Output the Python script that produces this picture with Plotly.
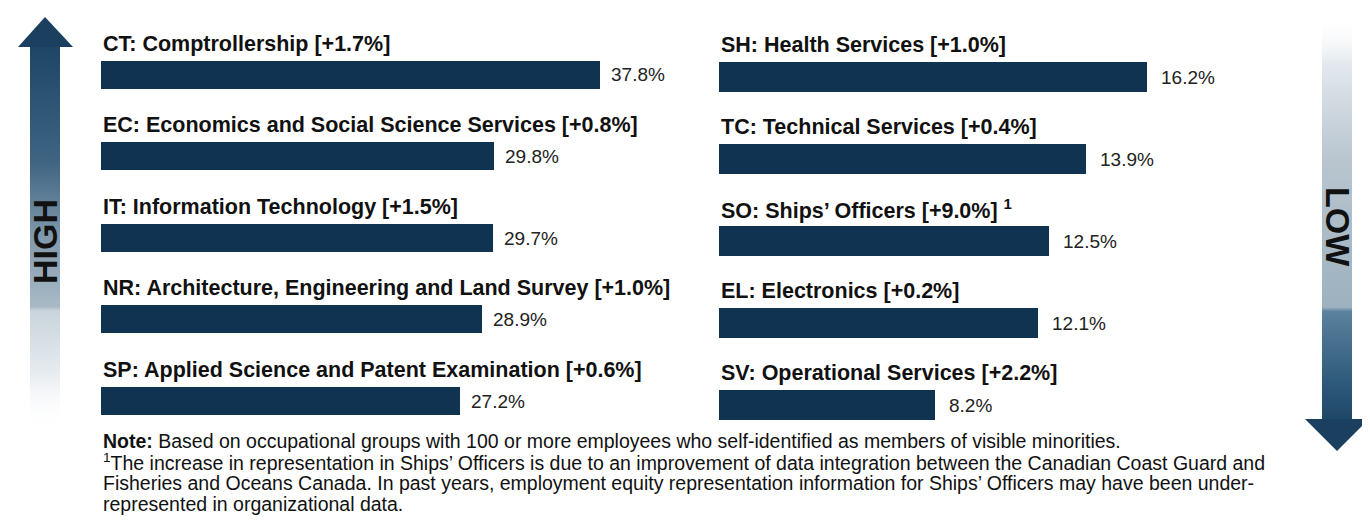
import plotly.graph_objects as go

# page is 1370x524; the html body adds an 8px margin, so the figure itself is 1362x516
PAGE_W, PAGE_H = 1370, 524
OFF = 8
W, H = PAGE_W - OFF, PAGE_H - OFF

# ---------------- data ----------------
left_codes = ["CT", "EC", "IT", "NR", "SP"]
left_names = ["Comptrollership", "Economics and Social Science Services",
              "Information Technology", "Architecture, Engineering and Land Survey",
              "Applied Science and Patent Examination"]
left_change = ["+1.7%", "+0.8%", "+1.5%", "+1.0%", "+0.6%"]
left_values = [37.8, 29.8, 29.7, 28.9, 27.2]

right_codes = ["SH", "TC", "SO", "EL", "SV"]
right_names = ["Health Services", "Technical Services", "Ships’ Officers",
               "Electronics", "Operational Services"]
right_change = ["+1.0%", "+0.4%", "+9.0%", "+0.2%", "+2.2%"]
right_notes = ["", "", " <sup>1</sup>", "", ""]
right_values = [16.2, 13.9, 12.5, 12.1, 8.2]

note_lines = [
    "<b>Note:</b> Based on occupational groups with 100 or more employees who self-identified as members of visible minorities.",
    "<sup>1</sup>The increase in representation in Ships’ Officers is due to an improvement of data integration between the Canadian Coast Guard and",
    "Fisheries and Oceans Canada. In past years, employment equity representation information for Ships’ Officers may have been under-",
    "represented in organizational data.",
]

BAR = "#0f3350"
FONT = "Liberation Sans, Arial, sans-serif"


def fx(p):  # page x pixel -> paper fraction
    return (p - OFF) / W


def fy(p):  # page y pixel -> paper fraction (from bottom)
    return 1 - (p - OFF) / H


fig = go.Figure()
pos = list(range(5))

fig.add_trace(go.Bar(x=left_values, y=pos, orientation="h", marker_color=BAR,
                     marker_line_width=0, width=0.34, xaxis="x", yaxis="y",
                     hoverinfo="skip", showlegend=False))
fig.add_trace(go.Bar(x=right_values, y=pos, orientation="h", marker_color=BAR,
                     marker_line_width=0, width=0.355, xaxis="x2", yaxis="y2",
                     hoverinfo="skip", showlegend=False))

annotations = []
for i in pos:
    annotations.append(dict(x=0, y=i - 0.385, xref="x", yref="y", xanchor="left", yanchor="middle",
                            text=f"<b>{left_codes[i]}: {left_names[i]} [{left_change[i]}]</b>",
                            showarrow=False, font=dict(size=21.5, color="#111111", family=FONT)))
    annotations.append(dict(x=left_values[i], y=i, xref="x", yref="y", xanchor="left", yanchor="middle",
                            xshift=9, text=f"{left_values[i]:.1f}%", showarrow=False,
                            font=dict(size=19, color="#222222", family=FONT)))
    annotations.append(dict(x=0, y=i - 0.395, xref="x2", yref="y2", xanchor="left", yanchor="middle",
                            text=f"<b>{right_codes[i]}: {right_names[i]} [{right_change[i]}]{right_notes[i]}</b>",
                            showarrow=False, font=dict(size=21.5, color="#111111", family=FONT)))
    annotations.append(dict(x=right_values[i], y=i, xref="x2", yref="y2", xanchor="left", yanchor="middle",
                            xshift=12, text=f"{right_values[i]:.1f}%", showarrow=False,
                            font=dict(size=19, color="#222222", family=FONT)))

# ---------------- arrows (decoration, page-pixel space on x3/y3) ----------------
fig.add_trace(go.Scatter(x=[30, 60, 60, 30, 30], y=[45, 45, 430, 430, 45], mode="lines",
                         line=dict(width=0), fill="toself", xaxis="x3", yaxis="y3",
                         fillgradient=dict(type="vertical", start=45, stop=430,
                                           colorscale=[[0, "#1d4566"], [0.3, "#3e6482"], [0.5, "#8199ac"],
                                                       [0.68, "#a9bac6"], [0.69, "#c9d4dc"],
                                                       [0.85, "#e6ebef"], [1, "rgba(255,255,255,0)"]]),
                         hoverinfo="skip", showlegend=False))
fig.add_trace(go.Scatter(x=[18, 45, 73, 18], y=[47, 17, 47, 47], mode="lines", line=dict(width=0),
                         fill="toself", fillcolor="#1b405f", xaxis="x3", yaxis="y3",
                         hoverinfo="skip", showlegend=False))
fig.add_trace(go.Scatter(x=[1322, 1352, 1352, 1322, 1322], y=[15, 15, 421, 421, 15], mode="lines",
                         line=dict(width=0), fill="toself", xaxis="x3", yaxis="y3",
                         fillgradient=dict(type="vertical", start=15, stop=421,
                                           colorscale=[[0, "rgba(255,255,255,0)"], [0.12, "#e3e9ee"],
                                                       [0.35, "#b9c6d0"], [0.72, "#9db1bf"],
                                                       [0.73, "#5b829e"], [0.9, "#2f5b7c"],
                                                       [1, "#1d4566"]]),
                         hoverinfo="skip", showlegend=False))
fig.add_trace(go.Scatter(x=[1305, 1337, 1369, 1305], y=[419, 451, 419, 419], mode="lines",
                         line=dict(width=0), fill="toself", fillcolor="#1b405f", xaxis="x3", yaxis="y3",
                         hoverinfo="skip", showlegend=False))

annotations.append(dict(x=45, y=242, xref="x3", yref="y3", text="<b>HIGH</b>", textangle=-90,
                        showarrow=False, font=dict(size=34, color="#111111", family=FONT)))
annotations.append(dict(x=1338, y=227, xref="x3", yref="y3", text="<b>LOW</b>", textangle=90,
                        showarrow=False, font=dict(size=34, color="#111111", family=FONT)))

for k, line in enumerate(note_lines):
    annotations.append(dict(x=101, y=441 + 21 * k, xref="x3", yref="y3", xanchor="left", yanchor="middle",
                            align="left", text=line, showarrow=False,
                            font=dict(size=19.5, color="#111111", family=FONT)))

fig.update_layout(
    width=W, height=H, margin=dict(l=0, r=0, t=0, b=0),
    paper_bgcolor="white", plot_bgcolor="rgba(0,0,0,0)",
    bargap=0, annotations=annotations,
    xaxis=dict(domain=[fx(101), fx(700)], range=[0, 599 / 13.2], visible=False, fixedrange=True),
    yaxis=dict(domain=[fy(441.75), fy(34.25)], range=[4.5, -0.5], visible=False, fixedrange=True),
    xaxis2=dict(domain=[fx(719), fx(1290)], range=[0, 571 / 26.4], visible=False, anchor="y2", fixedrange=True),
    yaxis2=dict(domain=[fy(446), fy(36)], range=[4.5, -0.5], visible=False, anchor="x2", fixedrange=True),
    xaxis3=dict(domain=[0, 1], range=[OFF, PAGE_W], visible=False, anchor="y3", fixedrange=True),
    yaxis3=dict(domain=[0, 1], range=[PAGE_H, OFF], visible=False, anchor="x3", fixedrange=True),
)

fig.write_html("out.html")
